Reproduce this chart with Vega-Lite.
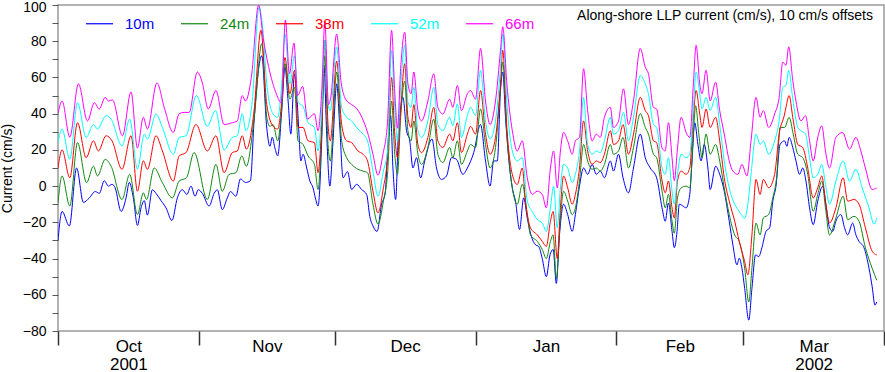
{
"$schema":"https://vega.github.io/schema/vega-lite/v6.json",
"width":826,"height":326,
"autosize":{"type":"none"},
"padding":{"left":58,"top":5,"right":1,"bottom":41},
"config":{"font":"Liberation Sans","view":{"stroke":"#9a9a9a","strokeWidth":1.5}},
"title":{"text":"Along-shore LLP current (cm/s), 10 cm/s offsets","anchor":"end","frame":"group","orient":"top","fontSize":14,"fontWeight":"normal","color":"#000","baseline":"alphabetic","offset":-33.5,"dx":-11},
"datasets":{"cur":[
{"s":"10m","d":0,"v":-30},{"s":"10m","d":0.9,"v":-14},{"s":"10m","d":2.5,"v":-22},{"s":"10m","d":4.1,"v":10},{"s":"10m","d":5.6,"v":-9},{"s":"10m","d":6.9,"v":-6.5},{"s":"10m","d":8.2,"v":-3},{"s":"10m","d":9.1,"v":-4},{"s":"10m","d":10.2,"v":3},{"s":"10m","d":11.1,"v":0},{"s":"10m","d":11.9,"v":1},{"s":"10m","d":12.6,"v":-1},{"s":"10m","d":13.9,"v":-14},{"s":"10m","d":15.0,"v":-6.5},{"s":"10m","d":15.7,"v":2},{"s":"10m","d":16.6,"v":-6.5},{"s":"10m","d":17.5,"v":-21.7},{"s":"10m","d":18.3,"v":-12},{"s":"10m","d":19.0,"v":-8},{"s":"10m","d":19.7,"v":-16},{"s":"10m","d":20.8,"v":-2},{"s":"10m","d":21.6,"v":-4},{"s":"10m","d":22.7,"v":-8},{"s":"10m","d":23.8,"v":-12},{"s":"10m","d":25.1,"v":-19},{"s":"10m","d":26.3,"v":-6.5},{"s":"10m","d":27.4,"v":-2},{"s":"10m","d":28.4,"v":-4.6},{"s":"10m","d":29.3,"v":0},{"s":"10m","d":30.2,"v":-5.6},{"s":"10m","d":30.9,"v":-2},{"s":"10m","d":31.8,"v":-4},{"s":"10m","d":33.3,"v":-11},{"s":"10m","d":34.4,"v":-4},{"s":"10m","d":35.1,"v":-2},{"s":"10m","d":36.2,"v":-13},{"s":"10m","d":37.3,"v":-6.5},{"s":"10m","d":38.0,"v":-3},{"s":"10m","d":39.2,"v":-5.6},{"s":"10m","d":40.2,"v":4},{"s":"10m","d":41.3,"v":2},{"s":"10m","d":42.4,"v":3},{"s":"10m","d":43.2,"v":36},{"s":"10m","d":44.9,"v":72},{"s":"10m","d":46.0,"v":32},{"s":"10m","d":46.7,"v":22},{"s":"10m","d":47.2,"v":27},{"s":"10m","d":47.8,"v":21},{"s":"10m","d":48.4,"v":16.7},{"s":"10m","d":49.3,"v":41.7},{"s":"10m","d":50.0,"v":65.7},{"s":"10m","d":50.7,"v":47},{"s":"10m","d":51.3,"v":28.7},{"s":"10m","d":52.1,"v":62},{"s":"10m","d":52.6,"v":51},{"s":"10m","d":53.1,"v":28.7},{"s":"10m","d":53.5,"v":13.9},{"s":"10m","d":54.0,"v":17.6},{"s":"10m","d":54.8,"v":10},{"s":"10m","d":55.5,"v":2.8},{"s":"10m","d":56.2,"v":-1},{"s":"10m","d":56.7,"v":-6.5},{"s":"10m","d":57.3,"v":-11},{"s":"10m","d":58.1,"v":25},{"s":"10m","d":58.6,"v":66.7},{"s":"10m","d":59.2,"v":28.7},{"s":"10m","d":59.9,"v":0},{"s":"10m","d":60.6,"v":25},{"s":"10m","d":61.4,"v":56.5},{"s":"10m","d":62.1,"v":32},{"s":"10m","d":62.8,"v":4.6},{"s":"10m","d":63.8,"v":8},{"s":"10m","d":64.7,"v":-1.9},{"s":"10m","d":65.8,"v":1},{"s":"10m","d":66.9,"v":-1.9},{"s":"10m","d":68.0,"v":-4.6},{"s":"10m","d":68.7,"v":-16.7},{"s":"10m","d":69.4,"v":-22},{"s":"10m","d":70.3,"v":-25},{"s":"10m","d":71.3,"v":-10},{"s":"10m","d":72.1,"v":-3.7},{"s":"10m","d":72.7,"v":23},{"s":"10m","d":73.3,"v":38.9},{"s":"10m","d":73.8,"v":10},{"s":"10m","d":74.4,"v":-7.4},{"s":"10m","d":75.0,"v":28.7},{"s":"10m","d":76.0,"v":49},{"s":"10m","d":76.8,"v":30.6},{"s":"10m","d":77.5,"v":25},{"s":"10m","d":78.2,"v":10},{"s":"10m","d":79.0,"v":15.7},{"s":"10m","d":79.9,"v":4.6},{"s":"10m","d":80.8,"v":13.9},{"s":"10m","d":82.4,"v":26},{"s":"10m","d":83.4,"v":10},{"s":"10m","d":84.5,"v":3.7},{"s":"10m","d":85.6,"v":5.6},{"s":"10m","d":86.7,"v":15.7},{"s":"10m","d":87.8,"v":14.8},{"s":"10m","d":89.2,"v":6.5},{"s":"10m","d":90.2,"v":10},{"s":"10m","d":91.6,"v":18.5},{"s":"10m","d":93.1,"v":34},{"s":"10m","d":94.2,"v":13.9},{"s":"10m","d":95.2,"v":0},{"s":"10m","d":96.0,"v":13.9},{"s":"10m","d":96.8,"v":13.9},{"s":"10m","d":97.5,"v":52.8},{"s":"10m","d":98.0,"v":63},{"s":"10m","d":98.6,"v":38},{"s":"10m","d":99.3,"v":15.7},{"s":"10m","d":100.1,"v":-1},{"s":"10m","d":100.8,"v":-8.3},{"s":"10m","d":101.7,"v":-24},{"s":"10m","d":102.6,"v":-6.5},{"s":"10m","d":103.4,"v":-17.6},{"s":"10m","d":104.2,"v":-26.9},{"s":"10m","d":105.2,"v":-32.4},{"s":"10m","d":105.9,"v":-33.3},{"s":"10m","d":106.7,"v":-40},{"s":"10m","d":107.6,"v":-50},{"s":"10m","d":108.4,"v":-38},{"s":"10m","d":109.1,"v":-35},{"s":"10m","d":109.8,"v":-53.7},{"s":"10m","d":110.5,"v":-26.9},{"s":"10m","d":111.4,"v":-10},{"s":"10m","d":112.3,"v":-15.7},{"s":"10m","d":113.3,"v":-25},{"s":"10m","d":114.0,"v":-15.7},{"s":"10m","d":114.9,"v":0},{"s":"10m","d":115.8,"v":10},{"s":"10m","d":116.7,"v":6.5},{"s":"10m","d":117.7,"v":12},{"s":"10m","d":118.6,"v":6.5},{"s":"10m","d":119.5,"v":8.3},{"s":"10m","d":120.4,"v":4.6},{"s":"10m","d":121.7,"v":13.9},{"s":"10m","d":122.4,"v":8.3},{"s":"10m","d":123.5,"v":17.6},{"s":"10m","d":124.5,"v":4.6},{"s":"10m","d":125.7,"v":-3.7},{"s":"10m","d":126.8,"v":10},{"s":"10m","d":128.3,"v":28.7},{"s":"10m","d":129.4,"v":15.7},{"s":"10m","d":130.5,"v":10},{"s":"10m","d":131.9,"v":4.6},{"s":"10m","d":133.1,"v":-12},{"s":"10m","d":133.8,"v":-19.4},{"s":"10m","d":134.5,"v":-9.3},{"s":"10m","d":135.3,"v":-25},{"s":"10m","d":135.8,"v":-34},{"s":"10m","d":136.4,"v":-25},{"s":"10m","d":136.9,"v":-10},{"s":"10m","d":137.7,"v":-11},{"s":"10m","d":138.4,"v":-12},{"s":"10m","d":139.2,"v":-4.6},{"s":"10m","d":139.7,"v":13.9},{"s":"10m","d":140.3,"v":35},{"s":"10m","d":141.0,"v":23},{"s":"10m","d":141.7,"v":13.9},{"s":"10m","d":142.4,"v":23},{"s":"10m","d":143.2,"v":10},{"s":"10m","d":143.7,"v":-1.9},{"s":"10m","d":144.9,"v":11},{"s":"10m","d":145.8,"v":6.5},{"s":"10m","d":146.8,"v":-2.8},{"s":"10m","d":147.9,"v":-19.4},{"s":"10m","d":148.7,"v":-32.4},{"s":"10m","d":149.6,"v":-43.5},{"s":"10m","d":150.1,"v":-39.8},{"s":"10m","d":150.7,"v":-45.4},{"s":"10m","d":151.3,"v":-56.5},{"s":"10m","d":152.2,"v":-74},{"s":"10m","d":152.9,"v":-56.5},{"s":"10m","d":153.7,"v":-38},{"s":"10m","d":154.4,"v":-38.9},{"s":"10m","d":155.1,"v":-34},{"s":"10m","d":156.0,"v":-25},{"s":"10m","d":156.8,"v":-23},{"s":"10m","d":157.5,"v":-8.3},{"s":"10m","d":158.2,"v":0},{"s":"10m","d":159.1,"v":23},{"s":"10m","d":160.1,"v":25},{"s":"10m","d":160.6,"v":22},{"s":"10m","d":161.1,"v":26.9},{"s":"10m","d":161.9,"v":21.3},{"s":"10m","d":162.6,"v":13.9},{"s":"10m","d":163.4,"v":6.5},{"s":"10m","d":164.1,"v":10},{"s":"10m","d":164.8,"v":2.8},{"s":"10m","d":165.6,"v":-12},{"s":"10m","d":166.4,"v":-21.3},{"s":"10m","d":167.4,"v":-8.3},{"s":"10m","d":168.5,"v":0},{"s":"10m","d":169.3,"v":-12},{"s":"10m","d":170.0,"v":-23},{"s":"10m","d":170.7,"v":-25},{"s":"10m","d":171.4,"v":-19.4},{"s":"10m","d":172.5,"v":-15.7},{"s":"10m","d":173.3,"v":-23},{"s":"10m","d":174.0,"v":-26.9},{"s":"10m","d":175.1,"v":-20.4},{"s":"10m","d":175.8,"v":-26.9},{"s":"10m","d":176.5,"v":-30.5},{"s":"10m","d":177.6,"v":-34},{"s":"10m","d":178.7,"v":-45.4},{"s":"10m","d":179.4,"v":-55.6},{"s":"10m","d":180.0,"v":-65.7},{"s":"10m","d":180.4,"v":-64},
{"s":"24m","d":0,"v":-9.3},{"s":"24m","d":0.9,"v":5.6},{"s":"24m","d":2.6,"v":-11},{"s":"24m","d":4.3,"v":24},{"s":"24m","d":6.3,"v":1.9},{"s":"24m","d":7.8,"v":11},{"s":"24m","d":8.7,"v":5.6},{"s":"24m","d":10.4,"v":14.8},{"s":"24m","d":11.7,"v":11},{"s":"24m","d":14.1,"v":-7.4},{"s":"24m","d":15.8,"v":6.5},{"s":"24m","d":17.5,"v":-15.7},{"s":"24m","d":18.8,"v":-3.7},{"s":"24m","d":19.5,"v":-7.4},{"s":"24m","d":21.2,"v":10},{"s":"24m","d":23.0,"v":1.9},{"s":"24m","d":25.2,"v":-6.5},{"s":"24m","d":26.7,"v":2.8},{"s":"24m","d":28.3,"v":4.6},{"s":"24m","d":30.0,"v":18.5},{"s":"24m","d":32.9,"v":-7.4},{"s":"24m","d":34.8,"v":12},{"s":"24m","d":36.2,"v":-2.8},{"s":"24m","d":37.7,"v":6.5},{"s":"24m","d":39.2,"v":7.4},{"s":"24m","d":40.5,"v":16.7},{"s":"24m","d":41.5,"v":11},{"s":"24m","d":43.2,"v":37},{"s":"24m","d":44.9,"v":78.7},{"s":"24m","d":46.0,"v":38},{"s":"24m","d":46.7,"v":33},{"s":"24m","d":47.4,"v":34},{"s":"24m","d":48.4,"v":25},{"s":"24m","d":49.3,"v":43.5},{"s":"24m","d":50.0,"v":67.6},{"s":"24m","d":51.1,"v":48},{"s":"24m","d":52.1,"v":54.6},{"s":"24m","d":52.9,"v":25},{"s":"24m","d":54.0,"v":23},{"s":"24m","d":55.1,"v":16.7},{"s":"24m","d":56.5,"v":12},{"s":"24m","d":57.3,"v":-1.9},{"s":"24m","d":58.1,"v":28.7},{"s":"24m","d":58.8,"v":72},{"s":"24m","d":59.5,"v":23},{"s":"24m","d":60.0,"v":13.9},{"s":"24m","d":61.4,"v":63},{"s":"24m","d":62.5,"v":25},{"s":"24m","d":63.6,"v":15.7},{"s":"24m","d":64.7,"v":12},{"s":"24m","d":66.1,"v":9.3},{"s":"24m","d":67.2,"v":8.3},{"s":"24m","d":68.2,"v":7.4},{"s":"24m","d":69.4,"v":-10},{"s":"24m","d":70.5,"v":-21},{"s":"24m","d":71.7,"v":-8.3},{"s":"24m","d":72.6,"v":6.5},{"s":"24m","d":73.5,"v":47},{"s":"24m","d":74.2,"v":17.6},{"s":"24m","d":74.8,"v":6.5},{"s":"24m","d":75.5,"v":38},{"s":"24m","d":76.4,"v":58},{"s":"24m","d":77.1,"v":30.6},{"s":"24m","d":77.8,"v":25},{"s":"24m","d":78.4,"v":36},{"s":"24m","d":79.3,"v":17.6},{"s":"24m","d":80.1,"v":12},{"s":"24m","d":81.5,"v":21.3},{"s":"24m","d":82.8,"v":37},{"s":"24m","d":83.7,"v":17.6},{"s":"24m","d":84.8,"v":13},{"s":"24m","d":86.3,"v":21.3},{"s":"24m","d":87.0,"v":15.7},{"s":"24m","d":88.0,"v":25},{"s":"24m","d":88.9,"v":12},{"s":"24m","d":90.2,"v":19.4},{"s":"24m","d":90.9,"v":23},{"s":"24m","d":92.0,"v":21.3},{"s":"24m","d":93.1,"v":42.6},{"s":"24m","d":94.2,"v":23},{"s":"24m","d":95.2,"v":10},{"s":"24m","d":96.4,"v":21.3},{"s":"24m","d":97.5,"v":54.6},{"s":"24m","d":98.0,"v":68.5},{"s":"24m","d":98.9,"v":28.7},{"s":"24m","d":100.1,"v":-1},{"s":"24m","d":101.2,"v":-10},{"s":"24m","d":102.3,"v":1},{"s":"24m","d":103.4,"v":-15.7},{"s":"24m","d":104.1,"v":-26.9},{"s":"24m","d":105.6,"v":-30.5},{"s":"24m","d":106.7,"v":-35},{"s":"24m","d":107.6,"v":-40},{"s":"24m","d":108.5,"v":-30.5},{"s":"24m","d":109.1,"v":-26.9},{"s":"24m","d":109.8,"v":-51},{"s":"24m","d":110.7,"v":-17.6},{"s":"24m","d":111.4,"v":-2.8},{"s":"24m","d":112.3,"v":-8.3},{"s":"24m","d":113.3,"v":-15.7},{"s":"24m","d":114.0,"v":-12},{"s":"24m","d":114.9,"v":2.8},{"s":"24m","d":115.8,"v":23},{"s":"24m","d":116.7,"v":13.9},{"s":"24m","d":117.7,"v":9.3},{"s":"24m","d":118.6,"v":10},{"s":"24m","d":119.5,"v":8.3},{"s":"24m","d":120.4,"v":12},{"s":"24m","d":121.7,"v":23},{"s":"24m","d":122.4,"v":17.6},{"s":"24m","d":123.5,"v":19.4},{"s":"24m","d":124.5,"v":26.9},{"s":"24m","d":125.7,"v":10},{"s":"24m","d":126.8,"v":21.3},{"s":"24m","d":128.3,"v":40},{"s":"24m","d":129.4,"v":32.4},{"s":"24m","d":130.1,"v":28.7},{"s":"24m","d":131.2,"v":17.6},{"s":"24m","d":131.9,"v":15.7},{"s":"24m","d":133.1,"v":-2.8},{"s":"24m","d":133.8,"v":-12},{"s":"24m","d":134.5,"v":-4.6},{"s":"24m","d":135.3,"v":-19.4},{"s":"24m","d":135.8,"v":-26},{"s":"24m","d":136.5,"v":-6.5},{"s":"24m","d":137.3,"v":-1},{"s":"24m","d":138.4,"v":0},{"s":"24m","d":139.2,"v":-1},{"s":"24m","d":140.0,"v":28.7},{"s":"24m","d":140.5,"v":44.4},{"s":"24m","d":141.2,"v":28.7},{"s":"24m","d":141.9,"v":15.7},{"s":"24m","d":142.8,"v":28.7},{"s":"24m","d":143.7,"v":17.6},{"s":"24m","d":144.9,"v":23},{"s":"24m","d":145.8,"v":13.9},{"s":"24m","d":146.8,"v":-1},{"s":"24m","d":147.9,"v":-15.7},{"s":"24m","d":149.1,"v":-27},{"s":"24m","d":150.1,"v":-30.5},{"s":"24m","d":151.3,"v":-45.4},{"s":"24m","d":152.2,"v":-64},{"s":"24m","d":152.9,"v":-45.4},{"s":"24m","d":153.8,"v":-20.4},{"s":"24m","d":154.7,"v":-27},{"s":"24m","d":155.4,"v":-17.6},{"s":"24m","d":156.6,"v":-15.7},{"s":"24m","d":157.5,"v":-6.5},{"s":"24m","d":158.4,"v":6.5},{"s":"24m","d":159.1,"v":32.4},{"s":"24m","d":160.1,"v":32.4},{"s":"24m","d":161.1,"v":38},{"s":"24m","d":162.0,"v":28.7},{"s":"24m","d":163.0,"v":17.6},{"s":"24m","d":164.1,"v":15.7},{"s":"24m","d":165.2,"v":6.5},{"s":"24m","d":166.4,"v":-13.9},{"s":"24m","d":167.4,"v":-4.6},{"s":"24m","d":168.3,"v":2.8},{"s":"24m","d":169.1,"v":-12},{"s":"24m","d":170.0,"v":-27},{"s":"24m","d":171.4,"v":-17.6},{"s":"24m","d":173.0,"v":-5.6},{"s":"24m","d":174.0,"v":-18.5},{"s":"24m","d":175.4,"v":-16.7},{"s":"24m","d":176.5,"v":-19.4},{"s":"24m","d":177.9,"v":-34},{"s":"24m","d":179.4,"v":-45.4},{"s":"24m","d":180.4,"v":-52},
{"s":"38m","d":0,"v":10},{"s":"38m","d":0.9,"v":20},{"s":"38m","d":2.6,"v":4.6},{"s":"38m","d":4.3,"v":35},{"s":"38m","d":6.2,"v":15.7},{"s":"38m","d":7.8,"v":25},{"s":"38m","d":8.9,"v":19.4},{"s":"38m","d":10.6,"v":27.8},{"s":"38m","d":11.9,"v":25},{"s":"38m","d":14.1,"v":9.3},{"s":"38m","d":16.1,"v":27.8},{"s":"38m","d":17.5,"v":-2.8},{"s":"38m","d":18.8,"v":13.9},{"s":"38m","d":19.7,"v":9.3},{"s":"38m","d":21.6,"v":27.8},{"s":"38m","d":23.0,"v":19.4},{"s":"38m","d":25.4,"v":2.8},{"s":"38m","d":26.7,"v":16.7},{"s":"38m","d":28.2,"v":18.5},{"s":"38m","d":30.4,"v":34},{"s":"38m","d":32.9,"v":19.4},{"s":"38m","d":34.8,"v":27.8},{"s":"38m","d":36.6,"v":7.4},{"s":"38m","d":38.4,"v":18.5},{"s":"38m","d":39.5,"v":19.4},{"s":"38m","d":40.6,"v":27.8},{"s":"38m","d":41.5,"v":20.4},{"s":"38m","d":43.2,"v":41.7},{"s":"38m","d":44.7,"v":86},{"s":"38m","d":46.0,"v":45},{"s":"38m","d":47.4,"v":33},{"s":"38m","d":48.4,"v":31.5},{"s":"38m","d":49.3,"v":47},{"s":"38m","d":50.0,"v":71},{"s":"38m","d":51.1,"v":51},{"s":"38m","d":52.1,"v":64},{"s":"38m","d":52.9,"v":32.4},{"s":"38m","d":54.0,"v":32.4},{"s":"38m","d":55.1,"v":25},{"s":"38m","d":56.5,"v":24},{"s":"38m","d":57.3,"v":7.4},{"s":"38m","d":58.1,"v":34},{"s":"38m","d":58.8,"v":80.5},{"s":"38m","d":59.5,"v":34},{"s":"38m","d":60.0,"v":25},{"s":"38m","d":61.4,"v":69},{"s":"38m","d":62.5,"v":34},{"s":"38m","d":63.6,"v":25},{"s":"38m","d":64.7,"v":24},{"s":"38m","d":66.1,"v":19.4},{"s":"38m","d":67.2,"v":17.6},{"s":"38m","d":68.2,"v":13.9},{"s":"38m","d":69.4,"v":-2.8},{"s":"38m","d":70.5,"v":-14.8},{"s":"38m","d":71.7,"v":-0.9},{"s":"38m","d":72.6,"v":15.7},{"s":"38m","d":73.5,"v":60},{"s":"38m","d":74.2,"v":28.7},{"s":"38m","d":74.8,"v":15.7},{"s":"38m","d":75.5,"v":41.7},{"s":"38m","d":76.4,"v":67.6},{"s":"38m","d":77.1,"v":38},{"s":"38m","d":77.8,"v":32.4},{"s":"38m","d":78.4,"v":45},{"s":"38m","d":79.3,"v":23},{"s":"38m","d":80.1,"v":18.5},{"s":"38m","d":81.5,"v":26.9},{"s":"38m","d":82.8,"v":43.5},{"s":"38m","d":83.7,"v":25},{"s":"38m","d":84.8,"v":21.3},{"s":"38m","d":86.3,"v":28.7},{"s":"38m","d":87.0,"v":25},{"s":"38m","d":88.0,"v":35},{"s":"38m","d":88.9,"v":18.5},{"s":"38m","d":90.2,"v":28.7},{"s":"38m","d":90.9,"v":33},{"s":"38m","d":92.0,"v":28.7},{"s":"38m","d":93.1,"v":52.8},{"s":"38m","d":94.2,"v":28.7},{"s":"38m","d":95.2,"v":17.6},{"s":"38m","d":96.4,"v":26.9},{"s":"38m","d":97.5,"v":56.5},{"s":"38m","d":98.0,"v":75},{"s":"38m","d":98.9,"v":32.4},{"s":"38m","d":100.1,"v":6.5},{"s":"38m","d":101.2,"v":0.9},{"s":"38m","d":102.3,"v":10},{"s":"38m","d":103.0,"v":-8.3},{"s":"38m","d":104.1,"v":-23},{"s":"38m","d":105.6,"v":-26.9},{"s":"38m","d":106.7,"v":-30.5},{"s":"38m","d":107.6,"v":-33.3},{"s":"38m","d":108.5,"v":-19.4},{"s":"38m","d":109.1,"v":-14},{"s":"38m","d":110.0,"v":-40},{"s":"38m","d":110.7,"v":-12},{"s":"38m","d":111.4,"v":5.6},{"s":"38m","d":112.3,"v":-0.9},{"s":"38m","d":113.3,"v":-10},{"s":"38m","d":114.0,"v":-4.6},{"s":"38m","d":114.9,"v":10},{"s":"38m","d":115.8,"v":36},{"s":"38m","d":116.7,"v":19.4},{"s":"38m","d":117.7,"v":12},{"s":"38m","d":118.6,"v":13.9},{"s":"38m","d":119.5,"v":13},{"s":"38m","d":120.4,"v":17.6},{"s":"38m","d":121.7,"v":30.6},{"s":"38m","d":122.4,"v":23},{"s":"38m","d":123.5,"v":25},{"s":"38m","d":124.5,"v":34},{"s":"38m","d":125.7,"v":17.6},{"s":"38m","d":126.8,"v":28.7},{"s":"38m","d":128.3,"v":49},{"s":"38m","d":129.4,"v":41.7},{"s":"38m","d":130.1,"v":38.9},{"s":"38m","d":131.2,"v":25},{"s":"38m","d":131.9,"v":24},{"s":"38m","d":133.1,"v":2.8},{"s":"38m","d":133.8,"v":-3.7},{"s":"38m","d":134.5,"v":2.8},{"s":"38m","d":135.3,"v":-12},{"s":"38m","d":135.8,"v":-17.6},{"s":"38m","d":136.5,"v":2.8},{"s":"38m","d":137.3,"v":8.3},{"s":"38m","d":138.4,"v":6.5},{"s":"38m","d":139.2,"v":10},{"s":"38m","d":140.0,"v":38},{"s":"38m","d":140.6,"v":52.8},{"s":"38m","d":141.4,"v":39.8},{"s":"38m","d":141.9,"v":32.4},{"s":"38m","d":142.8,"v":42.6},{"s":"38m","d":143.7,"v":32.4},{"s":"38m","d":144.9,"v":38},{"s":"38m","d":145.8,"v":25},{"s":"38m","d":146.8,"v":4.6},{"s":"38m","d":147.9,"v":-8.3},{"s":"38m","d":149.1,"v":-19.4},{"s":"38m","d":150.1,"v":-30.5},{"s":"38m","d":151.3,"v":-41.7},{"s":"38m","d":152.0,"v":-49},{"s":"38m","d":152.9,"v":-26.9},{"s":"38m","d":153.8,"v":3.7},{"s":"38m","d":154.7,"v":-4.6},{"s":"38m","d":155.4,"v":3.7},{"s":"38m","d":156.6,"v":-0.9},{"s":"38m","d":157.9,"v":6.5},{"s":"38m","d":158.9,"v":28.7},{"s":"38m","d":160.1,"v":39.8},{"s":"38m","d":160.4,"v":43.5},{"s":"38m","d":161.1,"v":50},{"s":"38m","d":161.9,"v":38},{"s":"38m","d":163.0,"v":23},{"s":"38m","d":164.1,"v":21.3},{"s":"38m","d":165.2,"v":10},{"s":"38m","d":166.4,"v":-6.5},{"s":"38m","d":167.4,"v":-0.9},{"s":"38m","d":168.3,"v":5.6},{"s":"38m","d":169.1,"v":-8.3},{"s":"38m","d":170.0,"v":-20.4},{"s":"38m","d":171.4,"v":-12},{"s":"38m","d":173.0,"v":4.6},{"s":"38m","d":174.0,"v":-8.3},{"s":"38m","d":175.4,"v":-7.4},{"s":"38m","d":176.5,"v":-10},{"s":"38m","d":177.9,"v":-23},{"s":"38m","d":179.4,"v":-36},{"s":"38m","d":180.4,"v":-38},
{"s":"52m","d":0,"v":24},{"s":"52m","d":0.9,"v":31.5},{"s":"52m","d":2.6,"v":14.8},{"s":"52m","d":4.3,"v":46},{"s":"52m","d":6.2,"v":26.9},{"s":"52m","d":7.8,"v":34},{"s":"52m","d":8.7,"v":31.5},{"s":"52m","d":10.6,"v":38.9},{"s":"52m","d":11.7,"v":37},{"s":"52m","d":14.1,"v":22.2},{"s":"52m","d":15.8,"v":37},{"s":"52m","d":17.5,"v":9.3},{"s":"52m","d":19.0,"v":28.7},{"s":"52m","d":19.7,"v":25.9},{"s":"52m","d":21.6,"v":39.8},{"s":"52m","d":23.0,"v":32.4},{"s":"52m","d":25.4,"v":17.6},{"s":"52m","d":26.7,"v":26.9},{"s":"52m","d":28.2,"v":27.8},{"s":"52m","d":30.5,"v":50},{"s":"52m","d":32.9,"v":33},{"s":"52m","d":34.7,"v":41.7},{"s":"52m","d":36.6,"v":20},{"s":"52m","d":38.4,"v":26.9},{"s":"52m","d":39.5,"v":27.8},{"s":"52m","d":40.6,"v":40},{"s":"52m","d":41.4,"v":30.6},{"s":"52m","d":42.8,"v":47},{"s":"52m","d":44.3,"v":99},{"s":"52m","d":45.2,"v":85},{"s":"52m","d":46.0,"v":56.5},{"s":"52m","d":47.4,"v":39.8},{"s":"52m","d":48.4,"v":38},{"s":"52m","d":49.3,"v":56.5},{"s":"52m","d":50.0,"v":84},{"s":"52m","d":51.1,"v":56.5},{"s":"52m","d":52.1,"v":72},{"s":"52m","d":52.9,"v":46.3},{"s":"52m","d":54.0,"v":44},{"s":"52m","d":55.1,"v":35},{"s":"52m","d":56.5,"v":32.4},{"s":"52m","d":57.3,"v":19.4},{"s":"52m","d":58.1,"v":41.7},{"s":"52m","d":58.8,"v":80.5},{"s":"52m","d":59.5,"v":45.4},{"s":"52m","d":60.0,"v":41.7},{"s":"52m","d":61.4,"v":76.9},{"s":"52m","d":62.5,"v":43.5},{"s":"52m","d":63.6,"v":38},{"s":"52m","d":64.7,"v":36},{"s":"52m","d":66.1,"v":31.5},{"s":"52m","d":67.2,"v":28.7},{"s":"52m","d":68.2,"v":25},{"s":"52m","d":69.4,"v":8.3},{"s":"52m","d":70.5,"v":-5.6},{"s":"52m","d":71.7,"v":8.3},{"s":"52m","d":72.6,"v":19.4},{"s":"52m","d":73.5,"v":75},{"s":"52m","d":74.2,"v":43.5},{"s":"52m","d":74.8,"v":25},{"s":"52m","d":75.5,"v":54.6},{"s":"52m","d":76.4,"v":77.8},{"s":"52m","d":77.1,"v":46.3},{"s":"52m","d":77.8,"v":43.5},{"s":"52m","d":78.4,"v":54.6},{"s":"52m","d":79.3,"v":30.6},{"s":"52m","d":80.1,"v":26.9},{"s":"52m","d":81.5,"v":36},{"s":"52m","d":82.8,"v":54.6},{"s":"52m","d":83.7,"v":34},{"s":"52m","d":84.8,"v":30.6},{"s":"52m","d":86.3,"v":38},{"s":"52m","d":87.0,"v":33.3},{"s":"52m","d":88.0,"v":45.4},{"s":"52m","d":88.9,"v":26.9},{"s":"52m","d":90.2,"v":39},{"s":"52m","d":90.9,"v":43.5},{"s":"52m","d":92.0,"v":38.9},{"s":"52m","d":93.1,"v":64},{"s":"52m","d":94.2,"v":36},{"s":"52m","d":95.2,"v":26},{"s":"52m","d":96.4,"v":36},{"s":"52m","d":97.5,"v":65.7},{"s":"52m","d":98.0,"v":84},{"s":"52m","d":98.9,"v":46.3},{"s":"52m","d":100.1,"v":19.4},{"s":"52m","d":101.2,"v":13.9},{"s":"52m","d":102.3,"v":15.7},{"s":"52m","d":103.4,"v":-8.3},{"s":"52m","d":104.5,"v":-14},{"s":"52m","d":105.6,"v":-18.5},{"s":"52m","d":106.7,"v":-20.4},{"s":"52m","d":107.6,"v":-25},{"s":"52m","d":108.5,"v":-12},{"s":"52m","d":109.2,"v":0},{"s":"52m","d":110.0,"v":-23},{"s":"52m","d":110.7,"v":-1},{"s":"52m","d":111.4,"v":12},{"s":"52m","d":112.3,"v":10},{"s":"52m","d":113.3,"v":1.9},{"s":"52m","d":114.0,"v":6.5},{"s":"52m","d":114.9,"v":19.4},{"s":"52m","d":115.8,"v":49},{"s":"52m","d":116.7,"v":23},{"s":"52m","d":117.7,"v":17.6},{"s":"52m","d":118.6,"v":19.4},{"s":"52m","d":119.5,"v":18.5},{"s":"52m","d":120.4,"v":25},{"s":"52m","d":121.7,"v":38},{"s":"52m","d":122.4,"v":28.7},{"s":"52m","d":123.5,"v":30.6},{"s":"52m","d":124.6,"v":40.7},{"s":"52m","d":125.7,"v":25},{"s":"52m","d":126.8,"v":38},{"s":"52m","d":128.3,"v":61},{"s":"52m","d":129.4,"v":56.5},{"s":"52m","d":130.1,"v":51},{"s":"52m","d":131.2,"v":34},{"s":"52m","d":131.9,"v":32.4},{"s":"52m","d":133.1,"v":10},{"s":"52m","d":133.8,"v":6.5},{"s":"52m","d":134.5,"v":15.7},{"s":"52m","d":135.3,"v":-2.8},{"s":"52m","d":135.8,"v":-10},{"s":"52m","d":136.5,"v":6.5},{"s":"52m","d":137.3,"v":17.6},{"s":"52m","d":138.4,"v":15.7},{"s":"52m","d":139.2,"v":17.6},{"s":"52m","d":140.0,"v":43.5},{"s":"52m","d":140.6,"v":63},{"s":"52m","d":141.4,"v":51},{"s":"52m","d":141.9,"v":42.6},{"s":"52m","d":142.8,"v":49},{"s":"52m","d":143.7,"v":41.7},{"s":"52m","d":144.9,"v":49},{"s":"52m","d":145.8,"v":34},{"s":"52m","d":146.8,"v":13.9},{"s":"52m","d":147.9,"v":-1},{"s":"52m","d":149.1,"v":-10},{"s":"52m","d":150.1,"v":-13.9},{"s":"52m","d":151.3,"v":-17.6},{"s":"52m","d":152.0,"v":-10},{"s":"52m","d":152.7,"v":6.5},{"s":"52m","d":153.8,"v":28.7},{"s":"52m","d":154.7,"v":23},{"s":"52m","d":155.4,"v":25},{"s":"52m","d":156.6,"v":17.6},{"s":"52m","d":157.9,"v":25},{"s":"52m","d":158.9,"v":36},{"s":"52m","d":159.7,"v":54.6},{"s":"52m","d":160.4,"v":55.6},{"s":"52m","d":161.0,"v":63.9},{"s":"52m","d":161.9,"v":48.1},{"s":"52m","d":163.0,"v":32.4},{"s":"52m","d":163.7,"v":30.6},{"s":"52m","d":164.7,"v":28.7},{"s":"52m","d":165.6,"v":15.7},{"s":"52m","d":166.4,"v":4.6},{"s":"52m","d":167.4,"v":6.5},{"s":"52m","d":168.3,"v":12},{"s":"52m","d":169.1,"v":0.9},{"s":"52m","d":170.0,"v":-10},{"s":"52m","d":171.4,"v":2.8},{"s":"52m","d":173.0,"v":13.9},{"s":"52m","d":174.4,"v":2.8},{"s":"52m","d":175.8,"v":9.3},{"s":"52m","d":177.2,"v":-1},{"s":"52m","d":178.7,"v":-12},{"s":"52m","d":179.8,"v":-21},{"s":"52m","d":180.4,"v":-17.6},
{"s":"66m","d":0,"v":40},{"s":"66m","d":0.9,"v":47},{"s":"66m","d":2.6,"v":27},{"s":"66m","d":4.5,"v":56.5},{"s":"66m","d":6.5,"v":36},{"s":"66m","d":8.0,"v":46},{"s":"66m","d":9.1,"v":42.6},{"s":"66m","d":10.4,"v":49},{"s":"66m","d":11.1,"v":47},{"s":"66m","d":12.0,"v":47.6},{"s":"66m","d":14.2,"v":27.8},{"s":"66m","d":16.1,"v":52},{"s":"66m","d":17.5,"v":21},{"s":"66m","d":18.8,"v":38},{"s":"66m","d":19.7,"v":31.5},{"s":"66m","d":21.8,"v":57},{"s":"66m","d":23.4,"v":43.5},{"s":"66m","d":25.4,"v":29.6},{"s":"66m","d":26.7,"v":40},{"s":"66m","d":27.8,"v":40.7},{"s":"66m","d":28.9,"v":40.7},{"s":"66m","d":30.7,"v":63},{"s":"66m","d":31.8,"v":57},{"s":"66m","d":33.1,"v":42.6},{"s":"66m","d":34.8,"v":52.8},{"s":"66m","d":36.6,"v":34},{"s":"66m","d":38.4,"v":35},{"s":"66m","d":39.5,"v":36},{"s":"66m","d":40.6,"v":50},{"s":"66m","d":41.3,"v":47},{"s":"66m","d":42.6,"v":60},{"s":"66m","d":44.2,"v":100},{"s":"66m","d":45.2,"v":82},{"s":"66m","d":46.4,"v":66},{"s":"66m","d":48.1,"v":51},{"s":"66m","d":49.2,"v":46},{"s":"66m","d":50.1,"v":91.7},{"s":"66m","d":51.0,"v":62},{"s":"66m","d":52.0,"v":79},{"s":"66m","d":52.8,"v":50},{"s":"66m","d":53.9,"v":55},{"s":"66m","d":55.0,"v":37},{"s":"66m","d":56.5,"v":40},{"s":"66m","d":57.3,"v":30.6},{"s":"66m","d":58.1,"v":52},{"s":"66m","d":58.8,"v":90.7},{"s":"66m","d":59.6,"v":45},{"s":"66m","d":60.1,"v":49},{"s":"66m","d":61.4,"v":84},{"s":"66m","d":62.4,"v":57},{"s":"66m","d":63.5,"v":47.5},{"s":"66m","d":64.7,"v":45},{"s":"66m","d":65.9,"v":42.6},{"s":"66m","d":67.3,"v":36},{"s":"66m","d":68.4,"v":28},{"s":"66m","d":69.4,"v":17.6},{"s":"66m","d":70.5,"v":6},{"s":"66m","d":71.6,"v":17.6},{"s":"66m","d":72.6,"v":35},{"s":"66m","d":73.5,"v":86},{"s":"66m","d":74.2,"v":52},{"s":"66m","d":74.8,"v":32},{"s":"66m","d":75.5,"v":65},{"s":"66m","d":76.4,"v":85},{"s":"66m","d":77.1,"v":56.5},{"s":"66m","d":77.8,"v":51},{"s":"66m","d":78.4,"v":63},{"s":"66m","d":79.3,"v":41.7},{"s":"66m","d":80.1,"v":36},{"s":"66m","d":81.5,"v":47},{"s":"66m","d":82.8,"v":62},{"s":"66m","d":83.7,"v":43.5},{"s":"66m","d":84.8,"v":39.8},{"s":"66m","d":86.3,"v":48},{"s":"66m","d":87.0,"v":43.5},{"s":"66m","d":88.0,"v":55.6},{"s":"66m","d":88.9,"v":41.7},{"s":"66m","d":90.2,"v":51},{"s":"66m","d":90.9,"v":52.8},{"s":"66m","d":92.0,"v":48},{"s":"66m","d":93.1,"v":76},{"s":"66m","d":94.2,"v":47},{"s":"66m","d":95.2,"v":34},{"s":"66m","d":96.4,"v":47},{"s":"66m","d":97.5,"v":75},{"s":"66m","d":98.0,"v":88},{"s":"66m","d":98.9,"v":56.5},{"s":"66m","d":100.1,"v":30.6},{"s":"66m","d":101.2,"v":19.4},{"s":"66m","d":102.3,"v":25},{"s":"66m","d":103.4,"v":4.6},{"s":"66m","d":104.5,"v":-4.6},{"s":"66m","d":105.6,"v":-2.8},{"s":"66m","d":106.7,"v":-4.6},{"s":"66m","d":107.6,"v":-12},{"s":"66m","d":108.5,"v":10},{"s":"66m","d":109.2,"v":19.4},{"s":"66m","d":110.0,"v":-1},{"s":"66m","d":110.7,"v":19.4},{"s":"66m","d":111.4,"v":29.6},{"s":"66m","d":112.3,"v":25},{"s":"66m","d":113.3,"v":17.6},{"s":"66m","d":114.0,"v":25},{"s":"66m","d":114.9,"v":26.9},{"s":"66m","d":115.8,"v":64.8},{"s":"66m","d":116.7,"v":41.7},{"s":"66m","d":117.7,"v":25},{"s":"66m","d":118.6,"v":28.7},{"s":"66m","d":119.5,"v":26.9},{"s":"66m","d":120.4,"v":38},{"s":"66m","d":121.7,"v":43.5},{"s":"66m","d":122.4,"v":32.4},{"s":"66m","d":123.5,"v":36},{"s":"66m","d":124.6,"v":53.7},{"s":"66m","d":125.7,"v":34},{"s":"66m","d":126.8,"v":47},{"s":"66m","d":128.3,"v":76},{"s":"66m","d":129.4,"v":65.7},{"s":"66m","d":130.1,"v":62},{"s":"66m","d":131.2,"v":43.5},{"s":"66m","d":131.9,"v":42.6},{"s":"66m","d":133.1,"v":21},{"s":"66m","d":133.8,"v":19.4},{"s":"66m","d":134.5,"v":35},{"s":"66m","d":135.3,"v":15.7},{"s":"66m","d":135.8,"v":3},{"s":"66m","d":136.5,"v":21},{"s":"66m","d":137.3,"v":38},{"s":"66m","d":138.4,"v":29.6},{"s":"66m","d":139.2,"v":26.9},{"s":"66m","d":140.0,"v":56.5},{"s":"66m","d":140.6,"v":77.8},{"s":"66m","d":141.4,"v":56.5},{"s":"66m","d":141.9,"v":51},{"s":"66m","d":142.8,"v":64},{"s":"66m","d":143.7,"v":47},{"s":"66m","d":144.9,"v":57.4},{"s":"66m","d":145.8,"v":41.7},{"s":"66m","d":146.8,"v":28.7},{"s":"66m","d":147.9,"v":13.9},{"s":"66m","d":148.7,"v":8.3},{"s":"66m","d":149.8,"v":6.5},{"s":"66m","d":150.7,"v":12},{"s":"66m","d":151.8,"v":5.6},{"s":"66m","d":152.7,"v":25},{"s":"66m","d":153.8,"v":49},{"s":"66m","d":154.7,"v":38},{"s":"66m","d":155.4,"v":41.7},{"s":"66m","d":156.6,"v":32.4},{"s":"66m","d":157.9,"v":39.8},{"s":"66m","d":158.9,"v":49},{"s":"66m","d":159.7,"v":68.5},{"s":"66m","d":160.4,"v":66.7},{"s":"66m","d":161.0,"v":76.9},{"s":"66m","d":161.9,"v":58.3},{"s":"66m","d":162.6,"v":47},{"s":"66m","d":163.7,"v":36},{"s":"66m","d":164.7,"v":38.9},{"s":"66m","d":165.6,"v":25},{"s":"66m","d":166.4,"v":13.9},{"s":"66m","d":167.4,"v":26.9},{"s":"66m","d":168.3,"v":33.3},{"s":"66m","d":169.1,"v":19.4},{"s":"66m","d":170.0,"v":10},{"s":"66m","d":171.4,"v":26.9},{"s":"66m","d":172.9,"v":29.6},{"s":"66m","d":174.4,"v":20.4},{"s":"66m","d":175.8,"v":26.9},{"s":"66m","d":176.9,"v":19.4},{"s":"66m","d":177.9,"v":10},{"s":"66m","d":179.4,"v":-1.9},{"s":"66m","d":180.4,"v":-1}
]},
"layer":[
{"data":{"name":"cur"},
 "mark":{"type":"line","interpolate":"monotone","strokeWidth":1,"clip":true},
 "encoding":{
  "x":{"field":"d","type":"quantitative","scale":{"domain":[0,182],"nice":false,"zero":false},
   "axis":{"title":null,"values":[0,31,61,92,123,151,182],"labels":false,"grid":false,"domain":false,"tickSize":14,"tickColor":"#333","tickWidth":1.5}},
  "y":{"field":"v","type":"quantitative","scale":{"domain":[-80,100],"nice":false,"zero":false},
   "axis":{"title":"Current (cm/s)","orient":"left","values":[-80,-60,-40,-20,0,20,40,60,80,100],"labelOverlap":false,"labelBound":false,"labelFlush":false,"labelOffset":{"condition":{"test":"datum.value == 100","value":2.5},"value":0},"grid":false,"domain":false,"tickSize":6,"tickColor":"#555","labelPadding":6,"labelFontSize":14,"labelColor":"#000","titleFontSize":14,"titleFontWeight":"normal","titleColor":"#000","titleBaseline":"alphabetic","titleX":-47,"titleY":163,"titleAngle":-90,"titleAnchor":"middle"}},
  "color":{"field":"s","type":"nominal","scale":{"domain":["10m","24m","38m","52m","66m"],"range":["#0000ff","#108810","#ff0000","#00ffff","#ff00ff"]},
   "legend":{"title":null,"orient":"none","direction":"horizontal","legendX":27,"legendY":4,"padding":0,"symbolType":"stroke","symbolSize":729,"symbolStrokeWidth":1.2,"labelFontSize":15,"labelOffset":11,"columnPadding":23,"labelColor":{"expr":"scale('color', datum.value)"}}}
 }},
{"mark":{"type":"rule","color":"#000","strokeWidth":1},
 "encoding":{
  "x":{"datum":0,"type":"quantitative","axis":{"title":null,"values":[15.5,46,76.5,107.5,137,166.5],"ticks":false,"tickSize":0,"domain":false,"grid":false,"labelPadding":7,"labelFontSize":17,"labelColor":"#000","labelLineHeight":18,"labelAngle":0,"labelAlign":"center","labelBaseline":"top","labelExpr":"datum.value < 20 ? ['Oct','2001'] : datum.value < 50 ? 'Nov' : datum.value < 80 ? 'Dec' : datum.value < 110 ? 'Jan' : datum.value < 140 ? 'Feb' : ['Mar','2002']","orient":"bottom","labelOverlap":false}},
  "x2":{"datum":182},
  "y":{"datum":0,"type":"quantitative","axis":{"title":null,"orient":"left","values":[-70,-50,-30,-10,10,30,50,70,90],"labels":false,"grid":false,"domain":false,"tickSize":6,"tickColor":"#555"}}
 }}
],
"resolve":{"axis":{"x":"independent","y":"independent"}}
}
